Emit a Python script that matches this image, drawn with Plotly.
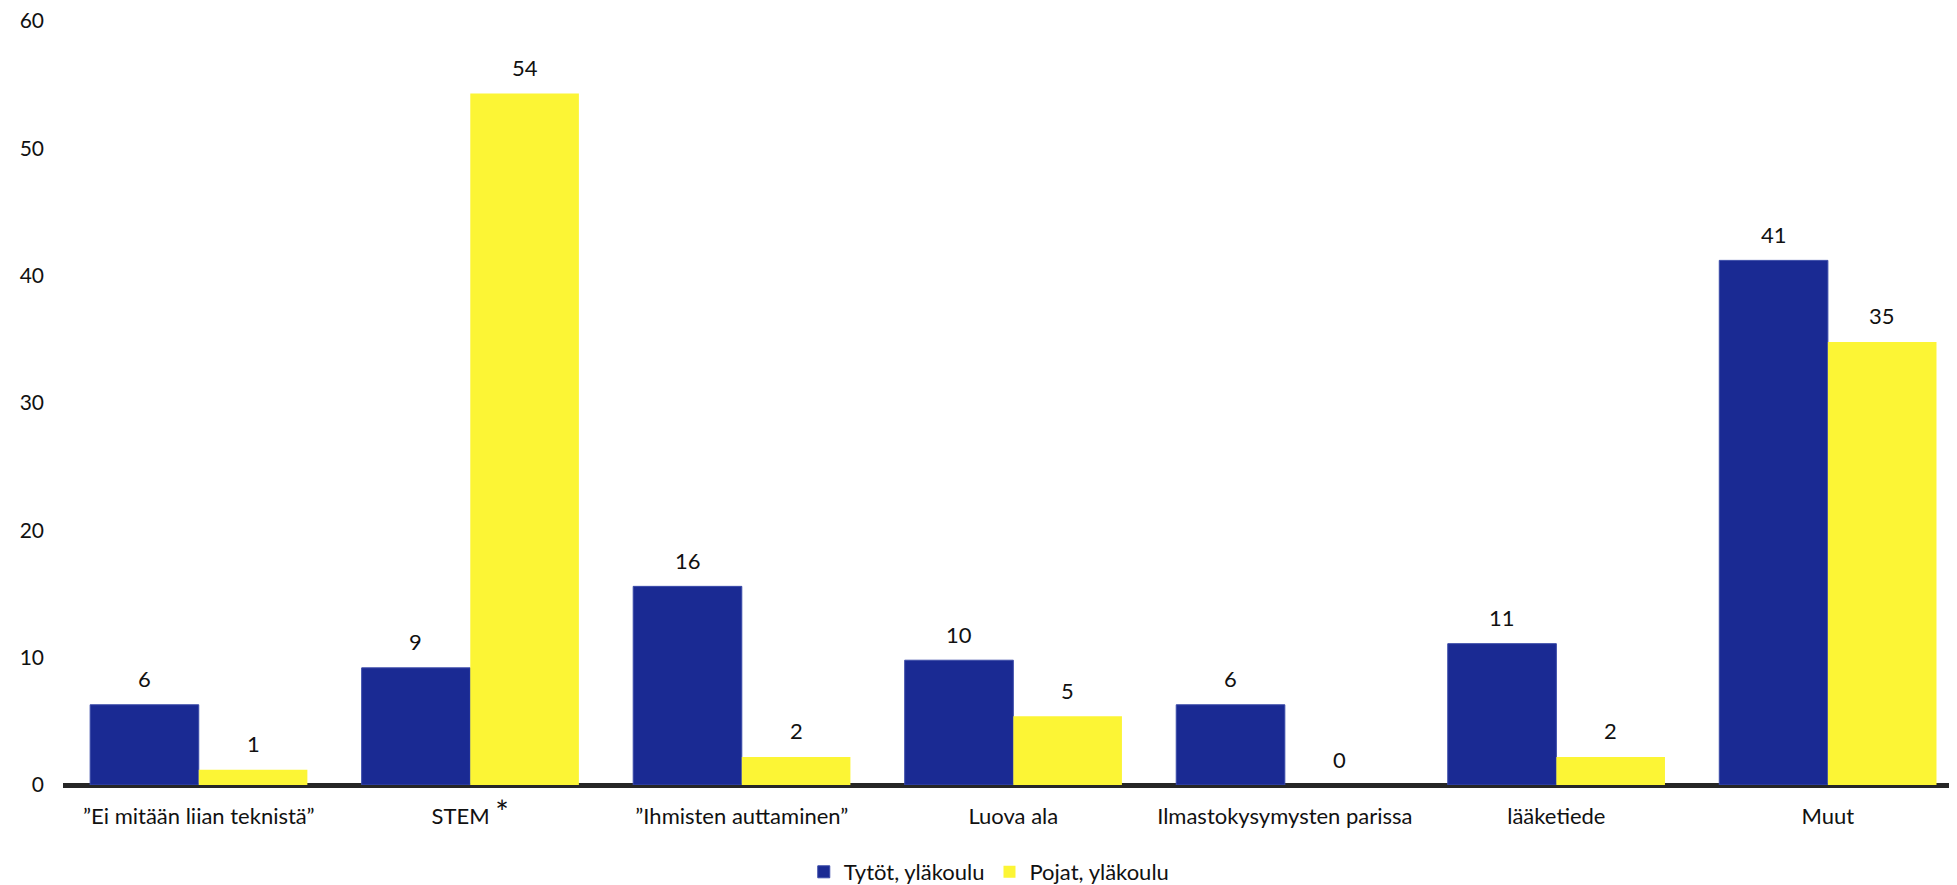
import plotly.graph_objects as go

categories = ["”Ei mitään liian teknistä”",
              "STEM <span style='font-size:32px'>*</span>",
              "”Ihmisten auttaminen”",
              "Luova ala", "Ilmastokysymysten parissa", "lääketiede", "Muut"]
tytot = [6.3, 9.2, 15.6, 9.8, 6.3, 11.1, 41.2]
pojat = [1.2, 54.3, 2.2, 5.4, 0.0, 2.2, 34.8]
series_names = ["Tytöt, yläkoulu", "Pojat, yläkoulu"]
y_ticks = [0, 10, 20, 30, 40, 50, 60]

FONT = "Lato"
BLUE = "#1A2A93"
YELLOW = "#FCF535"
TXT = "#111111"

fig = go.Figure()
fig.add_trace(go.Bar(x=list(range(len(categories))), y=tytot, name=series_names[0],
                     marker=dict(color=BLUE, line=dict(color="#3A4AA8", width=1))))
fig.add_trace(go.Bar(x=list(range(len(categories))), y=pojat, name=series_names[1],
                     marker=dict(color=YELLOW, line=dict(width=0))))

# data labels (rounded values) placed through the axes
for i in range(len(categories)):
    for vals, shift in ((tytot, -54.3), (pojat, 54.3)):
        fig.add_annotation(x=i, y=vals[i], text=f"{round(vals[i]):.0f}",
                           xshift=shift, yshift=26, showarrow=False,
                           yanchor="middle",
                           font=dict(family=FONT, size=22, color=TXT))

fig.update_layout(
    width=1957, height=885,
    margin=dict(l=55, r=0, t=13, b=104),
    paper_bgcolor="white", plot_bgcolor="white",
    barmode="group", bargap=0.2, bargroupgap=0,
    font=dict(family=FONT, size=20, color=TXT),
    showlegend=True,
    legend=dict(orientation="h", x=0.487, xanchor="center", y=-0.114, yanchor="middle",
                font=dict(family=FONT, size=22, color=TXT),
                traceorder="normal", itemwidth=30),
    xaxis=dict(range=[-0.5, 6.505], tickvals=list(range(len(categories))),
               ticktext=categories, showline=False, showgrid=False, ticks="",
               ticklabelstandoff=16, automargin=False,
               tickfont=dict(family=FONT, size=22, color=TXT)),
    yaxis=dict(range=[0, 60], tickvals=y_ticks, showgrid=False, showline=False,
               zeroline=True, zerolinecolor="#262626", zerolinewidth=5,
               ticks="", ticklabelstandoff=18, automargin=False,
               ticklabeloverflow="allow",
               tickfont=dict(family=FONT, size=21, color=TXT)),
)

fig.write_html("out.html")
